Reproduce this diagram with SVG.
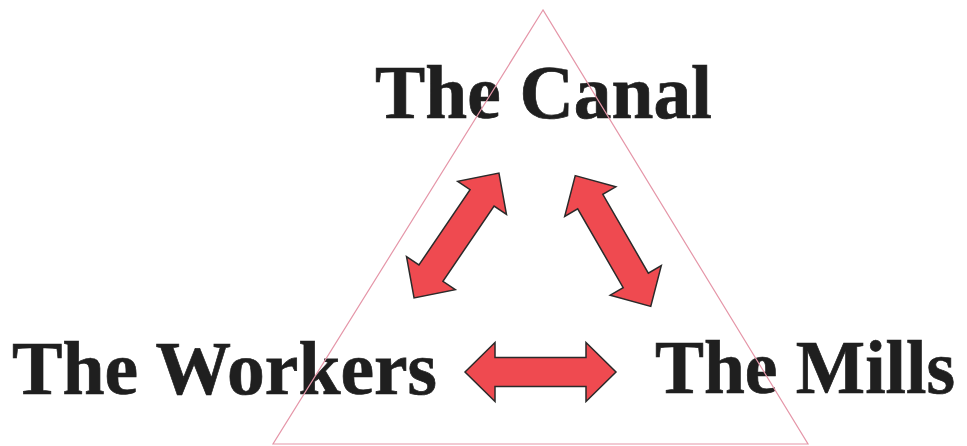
<svg xmlns="http://www.w3.org/2000/svg" xmlns:xlink="http://www.w3.org/1999/xlink" width="967" height="446" viewBox="0 0 967 446">
  <style>
    .label { font-family: "Liberation Serif", "Times New Roman", serif; font-weight: bold; font-size: 77px; fill: #1f1f1f; stroke: #1f1f1f; stroke-width: 0.7; }
    .arrow { fill: #ef4a50; stroke: #2a2a2a; stroke-width: 1.5; stroke-linejoin: miter; }
    .tri { fill: none; stroke: #e596a8; stroke-width: 1.2; }
  </style>
  <defs>
    <path id="dbl" d="M -75.5 0 L -45.5 -29.5 L -45.5 -14.5 L 45.5 -14.5 L 45.5 -29.5 L 75.5 0 L 45.5 29.5 L 45.5 14.5 L -45.5 14.5 L -45.5 29.5 Z"/>
  </defs>
  <rect width="967" height="446" fill="#ffffff"/>
  <g id="node-canal">
    <text class="label" x="375" y="118" textLength="337" lengthAdjust="spacingAndGlyphs">The Canal</text>
  </g>
  <g id="node-workers">
    <text class="label" x="12" y="394" textLength="425" lengthAdjust="spacingAndGlyphs">The Workers</text>
  </g>
  <g id="node-mills">
    <text class="label" x="655" y="393" textLength="300" lengthAdjust="spacingAndGlyphs">The Mills</text>
  </g>
  <g id="triangle">
    <polygon class="tri" points="543,10 273,444 808,444"/>
  </g>
  <g id="connectors">
    <use xlink:href="#dbl" class="arrow" transform="translate(456.5 235.5) rotate(-55.8)"/>
    <use xlink:href="#dbl" class="arrow" transform="translate(613 241) rotate(60)"/>
    <use xlink:href="#dbl" class="arrow" transform="translate(540.5 372)"/>
  </g>
</svg>
